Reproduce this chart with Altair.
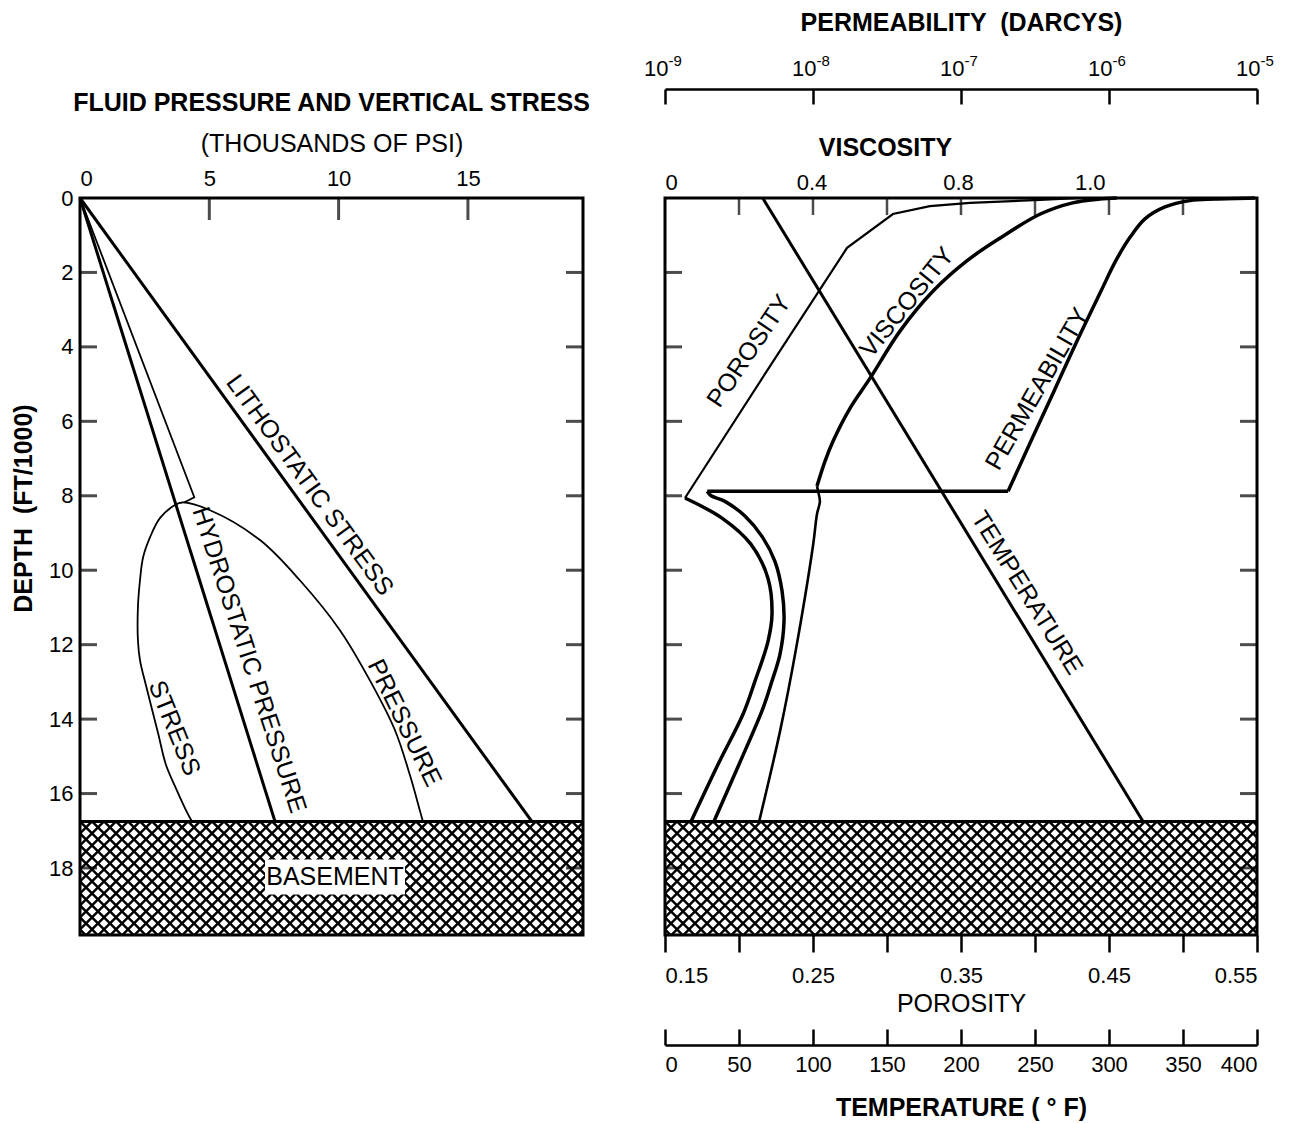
import altair as alt
import numpy as np
import pandas as pd

FONT = "Liberation Sans"

# ---------------- LEFT PANEL DATA (pressure/stress in thousands of psi, depth in thousands of ft)
litho_p = [0.0, 17.47]
litho_d = [0.0, 16.75]
hydro_p = [0.0, 7.54]
hydro_d = [0.0, 16.75]
normal_stress_p = [0.0, 4.42, 4.02]
normal_stress_d = [0.0, 8.04, 8.18]
overpressure_p = [4.33, 4.10, 3.71, 3.32, 3.02, 2.55, 2.32, 2.24, 2.24, 2.32, 2.44, 2.71, 3.09,
                  3.67, 3.95, 5.03, 6.96, 8.50, 10.05, 11.21, 12.18, 12.76, 13.14, 13.26]
overpressure_d = [16.75, 16.45, 15.86, 15.22, 14.38, 13.09, 12.42, 11.88, 10.99, 10.27, 9.65, 9.11, 8.60,
                  8.25, 8.18, 8.39, 9.19, 10.27, 11.61, 12.96, 14.30, 15.51, 16.45, 16.75]
depth_label_values = [0, 2, 4, 6, 8, 10, 12, 14, 16, 18]
depth_tick_values = [2, 4, 6, 8, 10, 12, 14, 16, 18]
pressure_label_values = [0, 5, 10, 15]
pressure_tick_values = [5, 10, 15]
basement_depth = [16.75]

# ---------------- RIGHT PANEL DATA
porosity_upper = [0.4305, 0.4035, 0.356, 0.329, 0.304, 0.273, 0.218, 0.1635]
porosity_upper_d = [0.0, 0.05, 0.13, 0.22, 0.43, 1.34, 4.70, 8.06]
porosity_lower = [0.1635, 0.1885, 0.208, 0.2196, 0.2223, 0.2196, 0.2108, 0.2027, 0.1858, 0.1676]
porosity_lower_d = [8.06, 8.60, 9.30, 10.22, 11.18, 11.91, 12.98, 13.87, 15.22, 16.75]
perm_upper = [9.68e-6, 5.20e-6, 3.52e-6, 2.39e-6, 1.75e-6, 1.39e-6, 1.11e-6, 8.83e-7, 6.08e-7,
              4.25e-7, 2.97e-7, 2.08e-7]
perm_upper_d = [0.0, 0.03, 0.07, 0.24, 0.56, 1.05, 1.69, 2.50, 3.84, 5.19, 6.53, 7.88]
perm_step = [2.08e-7, 1.93e-9]
perm_step_d = [7.88, 7.88]
perm_lower = [1.93e-9, 2.05e-9, 2.54e-9, 3.48e-9, 4.52e-9, 5.53e-9, 6.18e-9, 6.37e-9, 5.98e-9,
              5.28e-9, 4.59e-9, 3.16e-9, 2.14e-9]
perm_lower_d = [7.88, 8.00, 8.15, 8.55, 9.09, 9.76, 10.56, 11.37, 12.26, 12.98, 13.71, 15.22, 16.75]
visc_upper = [1.016, 0.993, 0.956, 0.912, 0.857, 0.812, 0.732, 0.642, 0.560, 0.505, 0.459, 0.437, 0.415]
visc_upper_d = [0.0, 0.03, 0.13, 0.43, 1.08, 1.69, 2.50, 3.57, 4.84, 5.65, 6.53, 7.07, 7.74]
visc_lower = [0.415, 0.418, 0.423, 0.415, 0.404, 0.358, 0.314, 0.257]
visc_lower_d = [7.74, 7.88, 8.15, 8.49, 9.35, 12.10, 14.33, 16.75]
temperature_f = [66, 323]
temperature_d = [0.0, 16.75]

porosity_tick_values = [0.15, 0.20, 0.25, 0.30, 0.35, 0.40, 0.45, 0.50, 0.55]
porosity_inner_ticks = [0.20, 0.25, 0.30, 0.35, 0.40, 0.45, 0.50]
perm_tick_values = [1e-9, 1e-8, 1e-7, 1e-6, 1e-5]
visc_label_values = [0, 0.4, 0.8, 1.0]
temp_tick_values = [0, 50, 100, 150, 200, 250, 300, 350, 400]

# ---------------- layout
W_L, W_R, H = 503, 592, 737
P_DOM = [0, 19.45]
D_DOM = [0, 19.8]
PHI_DOM = [0.15, 0.55]
K_DOM = [1e-9, 1e-5]
T_DOM = [0, 400]
CELL = 12.0
ANN_SIZE = 25
TITLE_SIZE = 25

left_notes = [
    ("LITHOSTATIC STRESS", 8.89, 7.71, 54),
    ("HYDROSTATIC PRESSURE", 6.55, 12.41, 72),
    ("PRESSURE", 12.55, 14.1, 64),
    ("STRESS", 3.65, 14.24, 68),
]
right_notes = [
    ("POROSITY", 0.2068, 4.11, 304),
    ("VISCOSITY", 0.3135, 2.80, 309),
    ("PERMEABILITY", 0.4015, 5.13, 300),
    ("TEMPERATURE", 0.3946, 10.61, 58),
]
basement_note = ("BASEMENT", 9.86, 18.24)


def path_df(col, xs, ds):
    return pd.DataFrame({col: xs, "d": ds, "i": list(range(len(xs)))})


def hatch_df(col, dom, width):
    xpp = (dom[1] - dom[0]) / width
    dpp = (D_DOM[1] - D_DOM[0]) / H
    top = basement_depth[0]
    ncol = int(np.ceil(width / CELL))
    nrow = int(np.ceil((D_DOM[1] - top) / (CELL * dpp)))
    xs = dom[0] + (np.arange(ncol) + 0.5) * CELL * xpp
    ds = top + (np.arange(nrow) + 0.5) * CELL * dpp
    gx, gd = np.meshgrid(xs, ds)
    return pd.DataFrame({col: gx.ravel(), "d": gd.ravel()})


X_SHAPE = "M-1,-1L1,1M-1,1L1,-1"
BOX_SHAPE = "M-1,-0.25L1,-0.25L1,0.25L-1,0.25Z"

y_scale = alt.Scale(domain=D_DOM, reverse=True, nice=False, zero=False)

# ================= LEFT CHART =================
p_axis = alt.Axis(orient="top", values=pressure_label_values, ticks=False, tickSize=0, domain=False,
                  labelPadding=8, title="(THOUSANDS OF PSI)", titleFontWeight="normal",
                  titleFontSize=TITLE_SIZE, titlePadding=11, grid=False)
d_axis = alt.Axis(orient="left", values=depth_label_values, ticks=False, tickSize=0, domain=False,
                  labelPadding=7, format="d", title="DEPTH \u00a0(FT/1000)", titleFontWeight="bold",
                  titleFontSize=TITLE_SIZE, titleX=-44, titleY=310, grid=False)
xP = alt.X("p:Q", scale=alt.Scale(domain=P_DOM, nice=False, zero=False), axis=p_axis)
yL = alt.Y("d:Q", scale=y_scale, axis=d_axis)

left_layers = []
left_layers.append(
    alt.Chart(hatch_df("p", P_DOM, W_L)).mark_point(
        shape=X_SHAPE, size=CELL * CELL, filled=False, stroke="black", strokeWidth=2.4,
        opacity=1, clip=True).encode(x=xP, y=yL))
left_layers.append(
    alt.Chart(pd.DataFrame({"d": basement_depth})).mark_rule(color="black", strokeWidth=3).encode(y=yL))
for xs, ds, w, interp in [
    (litho_p, litho_d, 3.0, "linear"),
    (hydro_p, hydro_d, 3.0, "linear"),
    (normal_stress_p, normal_stress_d, 1.8, "linear"),
    (overpressure_p, overpressure_d, 1.8, "catmull-rom"),
]:
    left_layers.append(
        alt.Chart(path_df("p", xs, ds)).mark_line(color="black", strokeWidth=w, interpolate=interp)
        .encode(x=xP, y=yL, order="i:Q"))
tick_df = pd.DataFrame({"d": depth_tick_values})
for xv in (8.5, W_L - 8.5):
    left_layers.append(
        alt.Chart(tick_df).mark_tick(orient="horizontal", size=17, thickness=3, color="black")
        .encode(y=yL, x=alt.value(xv)))
left_layers.append(
    alt.Chart(pd.DataFrame({"p": pressure_tick_values})).mark_tick(
        orient="vertical", size=22, thickness=3, color="black").encode(x=xP, y=alt.value(11)))
for txt, px, dv, ang in left_notes:
    left_layers.append(
        alt.Chart(pd.DataFrame({"p": [px], "d": [dv], "t": [txt]})).mark_text(
            font=FONT, fontSize=ANN_SIZE, angle=ang, align="center", baseline="middle", color="black")
        .encode(x=xP, y=yL, text="t:N"))
bdf = pd.DataFrame({"p": [basement_note[1]], "d": [basement_note[2]], "t": [basement_note[0]]})
left_layers.append(
    alt.Chart(bdf).mark_point(shape=BOX_SHAPE, size=140 * 140, filled=True, fill="white",
                              strokeWidth=0, opacity=1).encode(x=xP, y=yL))
left_layers.append(
    alt.Chart(bdf).mark_text(font=FONT, fontSize=ANN_SIZE, align="center", baseline="middle",
                             color="black").encode(x=xP, y=yL, text="t:N"))

left = alt.layer(*left_layers).properties(
    width=W_L, height=H,
    title=alt.TitleParams("FLUID PRESSURE AND VERTICAL STRESS", font=FONT, fontSize=TITLE_SIZE,
                          fontWeight="bold", anchor="middle", offset=15, color="black"))

# ================= RIGHT CHART =================
phi_scale = alt.Scale(domain=PHI_DOM, nice=False, zero=False)
k_scale = alt.Scale(type="log", domain=K_DOM, nice=False)
v_scale = alt.Scale(domain=[0, 0.8, 1.0], range=[0, 293, 440], nice=False, zero=False)
t_scale = alt.Scale(domain=T_DOM, nice=False, zero=False)

porosity_axis = alt.Axis(
    orient="bottom", values=porosity_tick_values,
    labelExpr="(round(datum.value*100) % 10 == 5) ? format(datum.value, '.2f') : ''",
    tickSize=17, tickWidth=2.5, domain=False, grid=False, labelPadding=13,
    title="POROSITY", titleFontWeight="normal", titleFontSize=TITLE_SIZE, titlePadding=5)
perm_axis_ticks = alt.Axis(orient="top", offset=94, values=perm_tick_values, tickSize=15, tickWidth=2.5,
                           domain=False, labels=False, grid=False, title=None)
perm_axis_labels = alt.Axis(
    orient="top", offset=109, values=perm_tick_values, ticks=False, tickSize=0, domain=True,
    domainWidth=2.5, grid=False, labelPadding=9, labelExpr="'10'", labelAlign="right", labelOffset=3,
    title="PERMEABILITY \u00a0(DARCYS)", titleFontWeight="bold", titleFontSize=TITLE_SIZE, titlePadding=22)
perm_axis_exponents = alt.Axis(
    orient="top", offset=109, values=perm_tick_values, ticks=False, tickSize=0, domain=False,
    grid=False, labelPadding=21, labelFontSize=15, labelAlign="left", labelOffset=3,
    labelExpr="'-' + (-round(log(datum.value)/LN10))", title=None)
visc_axis = alt.Axis(orient="top", values=visc_label_values, ticks=False, tickSize=0, domain=False,
                     grid=False, labelPadding=4,
                     labelExpr="datum.value == 0 ? '0' : format(datum.value, '.1f')",
                     title="VISCOSITY", titleFontWeight="bold", titleFontSize=TITLE_SIZE, titlePadding=11)
temp_axis_ticks = alt.Axis(orient="bottom", offset=94, values=temp_tick_values, tickSize=16, tickWidth=2.5,
                           domain=False, labels=False, grid=False, title=None)
temp_axis_labels = alt.Axis(orient="bottom", offset=110, values=temp_tick_values, ticks=False, tickSize=0,
                            domain=True, domainWidth=2.5, grid=False, labelPadding=9, format="d",
                            title="TEMPERATURE ( \u00b0 F)", titleFontWeight="bold",
                            titleFontSize=TITLE_SIZE, titlePadding=20)

yR = alt.Y("d:Q", scale=y_scale, axis=None)
phi_plain = alt.X("phi:Q", scale=phi_scale, axis=None)

right_layers = []
right_layers.append(
    alt.Chart(hatch_df("phi", PHI_DOM, W_R)).mark_point(
        shape=X_SHAPE, size=CELL * CELL, filled=False, stroke="black", strokeWidth=2.4,
        opacity=1, clip=True).encode(x=phi_plain, y=yR))
right_layers.append(
    alt.Chart(pd.DataFrame({"d": basement_depth})).mark_rule(color="black", strokeWidth=3).encode(y=yR))
# porosity
right_layers.append(
    alt.Chart(path_df("phi", porosity_upper, porosity_upper_d)).mark_line(color="black", strokeWidth=2.2)
    .encode(x=alt.X("phi:Q", scale=phi_scale, axis=porosity_axis), y=yR, order="i:Q"))
right_layers.append(
    alt.Chart(path_df("phi", porosity_lower, porosity_lower_d)).mark_line(
        color="black", strokeWidth=3.5, interpolate="catmull-rom")
    .encode(x=phi_plain, y=yR, order="i:Q"))
# permeability
right_layers.append(
    alt.Chart(path_df("k", perm_upper, perm_upper_d)).mark_line(
        color="black", strokeWidth=3.5, interpolate="catmull-rom")
    .encode(x=alt.X("k:Q", scale=k_scale, axis=perm_axis_ticks), y=yR, order="i:Q"))
right_layers.append(
    alt.Chart(path_df("k", perm_step, perm_step_d)).mark_line(color="black", strokeWidth=3.5)
    .encode(x=alt.X("k:Q", scale=k_scale, axis=perm_axis_labels), y=yR, order="i:Q"))
right_layers.append(
    alt.Chart(path_df("k", perm_lower, perm_lower_d)).mark_line(
        color="black", strokeWidth=3.5, interpolate="catmull-rom")
    .encode(x=alt.X("k:Q", scale=k_scale, axis=None), y=yR, order="i:Q"))
right_layers.append(
    alt.Chart(pd.DataFrame({"k": perm_tick_values})).mark_point(opacity=0)
    .encode(x=alt.X("k:Q", scale=k_scale, axis=perm_axis_exponents)))
# viscosity
right_layers.append(
    alt.Chart(path_df("v", visc_upper, visc_upper_d)).mark_line(
        color="black", strokeWidth=3.5, interpolate="catmull-rom")
    .encode(x=alt.X("v:Q", scale=v_scale, axis=visc_axis), y=yR, order="i:Q"))
right_layers.append(
    alt.Chart(path_df("v", visc_lower, visc_lower_d)).mark_line(
        color="black", strokeWidth=2.6, interpolate="catmull-rom")
    .encode(x=alt.X("v:Q", scale=v_scale, axis=None), y=yR, order="i:Q"))
# temperature
right_layers.append(
    alt.Chart(path_df("t", temperature_f, temperature_d)).mark_line(color="black", strokeWidth=3)
    .encode(x=alt.X("t:Q", scale=t_scale, axis=temp_axis_ticks), y=yR, order="i:Q"))
right_layers.append(
    alt.Chart(pd.DataFrame({"t": temp_tick_values})).mark_point(opacity=0)
    .encode(x=alt.X("t:Q", scale=t_scale, axis=temp_axis_labels)))
# inner ticks
rtick_df = pd.DataFrame({"d": depth_tick_values})
for xv in (8.5, W_R - 8.5):
    right_layers.append(
        alt.Chart(rtick_df).mark_tick(orient="horizontal", size=17, thickness=3, color="black")
        .encode(y=yR, x=alt.value(xv)))
right_layers.append(
    alt.Chart(pd.DataFrame({"phi": porosity_inner_ticks})).mark_tick(
        orient="vertical", size=17, thickness=2.5, color="black").encode(x=phi_plain, y=alt.value(8.5)))
for txt, xv, dv, ang in right_notes:
    right_layers.append(
        alt.Chart(pd.DataFrame({"phi": [xv], "d": [dv], "t": [txt]})).mark_text(
            font=FONT, fontSize=ANN_SIZE, angle=ang, align="center", baseline="middle", color="black")
        .encode(x=phi_plain, y=yR, text="t:N"))

right = alt.layer(*right_layers).resolve_scale(x="independent").resolve_axis(x="independent").properties(
    width=W_R, height=H)

chart = alt.hconcat(left, right, spacing=82, bounds="flush").properties(
    padding={"left": 1, "top": 0, "right": 5, "bottom": 0}
).configure_view(stroke="black", strokeWidth=3).configure_axis(
    labelFont=FONT, titleFont=FONT, labelFontSize=22, titleFontSize=TITLE_SIZE,
    labelColor="black", titleColor="black", tickColor="black", domainColor="black", grid=False
)

chart.save("out.html", embed_options={"renderer": "svg", "actions": False})
